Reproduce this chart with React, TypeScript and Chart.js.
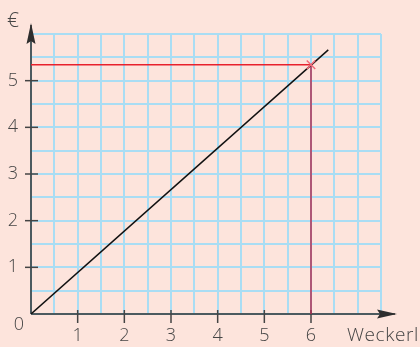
import React, { useEffect, useRef } from "react";
import { Chart, registerables } from "chart.js";

Chart.register(...registerables);

// Data
const lineX = [0, 6.37];
const lineY = [0, 5.66];
const readX = [0, 6];
const readY = [5.34, 5.34];
const xTickLabels = [1, 2, 3, 4, 5, 6];
const yTickLabels = [1, 2, 3, 4, 5];
const xTitle = "Weckerl";
const yTitle = "€";
const originLabel = "0";

const BG = "#fde4dc";
const GRID = "#a9ddf4";
const AXIS = "#2e2e2e";
const TEXT = "#454545";
const FONT = "'Open Sans', 'Noto Sans', sans-serif";
const W = "350";

const axesPlugin = {
  id: "axesPlugin",
  beforeDraw(chart: any) {
    const { ctx } = chart;
    ctx.save();
    ctx.fillStyle = BG;
    ctx.fillRect(0, 0, chart.width, chart.height);
    ctx.restore();
  },
  beforeDatasetsDraw(chart: any) {
    const { ctx, scales } = chart;
    const xs = scales.x;
    const ys = scales.y;
    const ox = xs.getPixelForValue(0);
    const oy = ys.getPixelForValue(0);
    ctx.save();
    ctx.strokeStyle = AXIS;
    ctx.fillStyle = AXIS;
    ctx.lineWidth = 1.5;
    // x axis
    ctx.beginPath();
    ctx.moveTo(ox, oy);
    ctx.lineTo(xs.right + 14, oy);
    ctx.stroke();
    ctx.beginPath();
    ctx.moveTo(xs.right + 16, oy);
    ctx.lineTo(xs.right - 4, oy - 4.5);
    ctx.lineTo(xs.right - 1, oy);
    ctx.lineTo(xs.right - 4, oy + 4.5);
    ctx.closePath();
    ctx.fill();
    // y axis
    ctx.beginPath();
    ctx.moveTo(ox, oy);
    ctx.lineTo(ox, ys.top - 9);
    ctx.stroke();
    ctx.beginPath();
    ctx.moveTo(ox, ys.top - 11);
    ctx.lineTo(ox - 4.5, ys.top + 10);
    ctx.lineTo(ox, ys.top + 7);
    ctx.lineTo(ox + 4.5, ys.top + 10);
    ctx.closePath();
    ctx.fill();
    // tick marks
    ctx.lineWidth = 1.5;
    ctx.strokeStyle = "#444";
    xTickLabels.forEach((v) => {
      const px = xs.getPixelForValue(v);
      ctx.beginPath();
      ctx.moveTo(px, oy - 4);
      ctx.lineTo(px, oy + 9);
      ctx.stroke();
    });
    yTickLabels.forEach((v) => {
      const py = ys.getPixelForValue(v);
      ctx.beginPath();
      ctx.moveTo(ox - 6, py);
      ctx.lineTo(ox + 7, py);
      ctx.stroke();
    });
    // titles
    ctx.fillStyle = TEXT;
    ctx.font = `${W} 18px ${FONT}`;
    ctx.textBaseline = "middle";
    ctx.textAlign = "center";
    ctx.fillText(originLabel, ox - 12, oy + 11);
    ctx.font = `${W} 21px ${FONT}`;
    ctx.fillText(yTitle, ox - 18, ys.top - 13);
    ctx.textAlign = "left";
    ctx.font = `${W} 19px ${FONT}`;
    (ctx as any).letterSpacing = "0.6px";
    ctx.fillText(xTitle, xs.right - 34, oy + 22);
    ctx.restore();
  },
};

export default function App() {
  const ref = useRef<HTMLCanvasElement | null>(null);
  useEffect(() => {
    document.body.style.margin = "0";
    document.body.style.background = BG;
    const canvas = ref.current!;
    const chart = new Chart(canvas, {
      type: "scatter",
      data: {
        datasets: [
          {
            label: "marker",
            data: [{ x: readX[1], y: readY[1] }],
            pointStyle: "crossRot",
            pointRadius: 6,
            borderColor: "#f26a78",
            borderWidth: 1.5,
            showLine: false,
            order: 0,
          },
          {
            label: "price",
            data: lineX.map((x, i) => ({ x, y: lineY[i] })),
            showLine: true,
            borderColor: "#111111",
            borderWidth: 1.5,
            pointRadius: 0,
            order: 1,
          },
          {
            label: "read-h",
            data: readX.map((x, i) => ({ x, y: readY[i] })),
            showLine: true,
            borderColor: "#e8202c",
            borderWidth: 1.5,
            pointRadius: 0,
            order: 2,
          },
          {
            label: "read-v",
            data: [
              { x: readX[1], y: 0 },
              { x: readX[1], y: readY[1] },
            ],
            showLine: true,
            borderColor: "#b02a4e",
            borderWidth: 1.5,
            pointRadius: 0,
            order: 3,
          },
        ],
      },
      options: {
        animation: false,
        responsive: false,
        devicePixelRatio: 1,
        layout: { padding: { top: 34, right: 39, left: 0, bottom: 0 } },
        plugins: { legend: { display: false }, tooltip: { enabled: false } },
        scales: {
          x: {
            type: "linear",
            min: 0,
            max: 7.5,
            afterFit: (s: any) => {
              s.height = 33;
            },
            border: { display: false },
            grid: { color: GRID, lineWidth: 2, drawTicks: false },
            ticks: {
              stepSize: 0.5,
              autoSkip: false,
              maxRotation: 0,
              padding: 11,
              color: TEXT,
              font: { family: FONT, size: 18, weight: W },
              callback: (v: any) => (xTickLabels.includes(Number(v)) ? String(v) : ""),
            },
          },
          y: {
            type: "linear",
            min: 0,
            max: 6,
            afterFit: (s: any) => {
              s.width = 31;
            },
            border: { display: false },
            grid: { color: GRID, lineWidth: 2, drawTicks: false },
            ticks: {
              stepSize: 0.5,
              autoSkip: false,
              padding: 13,
              color: TEXT,
              font: { family: FONT, size: 18, weight: W },
              callback: (v: any) => (yTickLabels.includes(Number(v)) ? String(v) : ""),
            },
          },
        },
      },
      plugins: [axesPlugin],
    });
    return () => chart.destroy();
  }, []);
  return (
    <div style={{ position: "fixed", left: 0, top: 0, width: 420, height: 347, background: BG }}>
      <canvas ref={ref} width={420} height={347} style={{ width: 420, height: 347, display: "block" }} />
    </div>
  );
}
